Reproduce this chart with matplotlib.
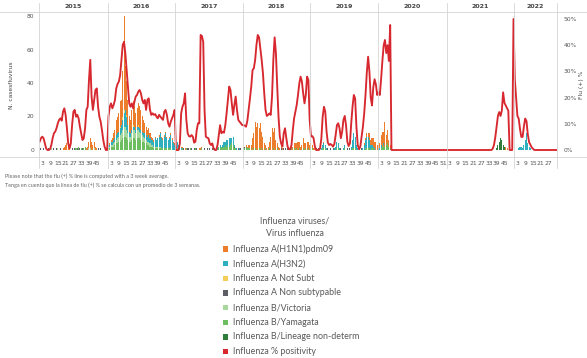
import matplotlib
matplotlib.use("Agg")
import matplotlib.pyplot as plt
from matplotlib.lines import Line2D
from matplotlib.patches import Rectangle
import numpy as np

# ---------------------------------------------------------------- data
years = [2015, 2016, 2017, 2018, 2019, 2020, 2021, 2022]
weeks_in_year = [53, 52, 52, 52, 52, 53, 52, 33]
week_ticks = {
    2015: [3, 9, 15, 21, 27, 33, 39, 45],
    2016: [3, 9, 15, 21, 27, 33, 39, 45],
    2017: [3, 9, 15, 21, 27, 33, 39, 45],
    2018: [3, 9, 15, 21, 27, 33, 39, 45],
    2019: [3, 9, 15, 21, 27, 33, 39, 45],
    2020: [3, 9, 15, 21, 27, 33, 39, 45, 51],
    2021: [3, 9, 15, 21, 27, 33, 39, 45],
    2022: [3, 9, 15, 21, 27],
}

# Influenza % positivity (3-week average), one row per year
positivity = (
    [3.2, 4.5, 5.1, 4.5, 2.5, 0.6, 0, 0, 0.3, 1.9, 4.5, 6.4, 7.0, 8.3, 10.2, 11.5, 12.1, 11.2,
     14.6, 15.9, 13.4, 8.3, 2.5, 0.6, 2.5, 9.5, 14.6, 15.3, 12.7, 13.4, 12.1, 8.9, 6.4, 3.8,
     4.5, 8.3, 15.3, 16.5, 26.7, 34.4, 20.4, 15.3, 19.1, 22.9, 23.5, 16.5, 12.7, 10.8, 7.6,
     3.8, 1.3, 0, 0]
    + [12.7, 16.5, 17.8, 15.9, 17.2, 19.1, 23.5, 25.2, 26.1, 28.6, 34.4, 40.1, 41.3, 36.9,
       30.5, 24.2, 17.8, 16.5, 17.8, 15.9, 18.4, 20.4, 21.0, 22.3, 22.9, 21.6, 19.1, 17.8,
       19.1, 15.3, 19.1, 19.7, 15.3, 13.4, 14.0, 13.4, 13.7, 12.7, 12.1, 13.4, 12.7, 12.1,
       11.5, 14.6, 15.3, 13.4, 10.2, 8.9, 10.8, 12.1, 13.4, 15.3]
    + [0, 0, 0, 2.5, 14.0, 16.5, 17.8, 21.6, 11.5, 6.4, 5.3, 5.1, 5.7, 5.1, 2.8, 3.2, 7.6,
       10.2, 10.2, 43.9, 43.5, 41.3, 15.3, 5.1, 4.7, 4.5, 2.5, 1.9, 2.5, 0.6, 0, 0, 1.9, 5.7,
       9.5, 6.4, 7.0, 6.6, 9.5, 14.0, 19.1, 24.2, 22.9, 17.8, 13.4, 17.2, 20.4, 15.3, 11.5,
       10.8, 10.2, 9.5]
    + [9.5, 9.3, 8.9, 11.2, 15.3, 19.7, 24.2, 30.5, 31.2, 34.4, 40.1, 43.9, 43.0, 38.8, 34.4,
       29.3, 21.6, 15.3, 13.0, 13.4, 14.0, 13.4, 20.4, 34.4, 43.0, 36.9, 24.2, 12.7, 5.1, 2.5,
       1.3, 6.4, 8.3, 4.5, 1.3, 0.3, 0.3, 1.9, 7.6, 12.1, 14.6, 17.2, 21.0, 25.4, 28.0, 26.1,
       21.6, 17.8, 21.0, 28.0, 26.7, 11.5]
    + [5.1, 5.3, 4.5, 1.3, 0, 0, 0, 0.6, 4.5, 12.7, 16.5, 14.6, 7.0, 2.8, 1.9, 2.3, 1.9, 1.3,
       2.3, 5.7, 9.5, 10.2, 8.3, 4.5, 7.0, 11.5, 13.0, 9.5, 3.2, 1.5, 2.5, 10.2, 16.5, 21.0,
       19.7, 8.9, 1.9, 0.3, 1.3, 5.1, 8.9, 14.0, 21.0, 29.5, 35.6, 30.0, 20.0, 17.0, 24.0,
       27.0, 25.0, 21.0]
    + [22, 21, 27, 34, 40, 42, 37, 40, 34, 47.7] + [0] * 43
    + [0] * 35 + [0.5, 2, 5, 9, 13, 14.5, 13, 15, 22, 18, 17, 16, 15, 0, 0, 0, 50]
    + [27, 20, 13, 12, 8, 5, 5, 9, 12, 11, 6, 3, 2, 1, 0.5, 0] + [0] * 17
)

h1n1 = (
    [0] * 18 + [1, 2, 3, 4, 3, 1] + [0] * 12 + [1, 2, 4, 6, 5, 3, 4, 2, 1] + [0] * 8
    + [1, 1, 1, 2, 4, 5, 9, 10, 11, 15, 15, 27, 56, 26, 20, 15, 9, 8, 12, 14, 12, 10, 11, 13,
       13, 12, 9, 8, 6, 5, 4, 4, 3, 2, 1, 1, 1, 0, 0, 1, 1, 1, 1, 1, 1, 1, 0, 1, 1, 1, 1, 1]
    + [0, 0, 0, 0, 1, 1, 0, 1, 0, 0, 0, 0, 0, 0, 0, 0, 0, 0, 1, 1, 1, 0, 0, 0, 0, 0, 0, 0, 0,
       0, 0, 0, 0, 0, 0, 0, 0, 0, 0, 0, 0, 0, 0, 0, 0, 0, 0, 0, 0, 0, 0, 0]
    + [1, 0, 1, 1, 2, 2, 3, 6, 10, 16, 14, 16, 12, 16, 10, 8, 4, 2, 1, 2, 4, 8, 13, 10, 13, 6,
       3, 2, 1, 1, 1, 0, 0, 0, 0, 0, 1, 1, 2, 3, 4, 3, 5, 4, 2, 3, 6, 4, 3, 5, 4, 3]
    + [3, 2, 1, 1, 0, 0, 0, 0, 0, 0, 1, 0, 0, 0, 0, 0, 0, 0, 0, 0, 0, 0, 0, 0, 0, 0, 0, 0, 0,
       0, 0, 0, 0, 0, 0, 0, 0, 0, 0, 0, 0, 1, 1, 2, 2, 4, 3, 4, 5, 4, 5, 3]
    + [2, 3, 6, 9, 7, 15, 6, 8, 4, 2] + [0] * 43
    + [0] * 45 + [2, 1] + [0] * 5
    + [0] * 33
)

h3n2 = (
    [0] * 53
    + [2, 1, 2, 2, 2, 2, 3, 3, 3, 4, 5, 6, 8, 10, 8, 5, 3, 2, 2, 2, 2, 2, 2, 2, 2, 2, 2, 2, 3,
       3, 3, 4, 3, 3, 3, 3, 5, 4, 5, 6, 8, 6, 5, 7, 9, 6, 5, 6, 8, 6, 4, 3]
    + [5, 4, 3, 2, 1, 0, 0, 0, 0, 0, 0, 0, 0, 0, 0, 0, 0, 0, 0, 0, 0, 0, 0, 0, 0, 0, 0, 0, 0,
       0, 0, 0, 1, 0, 2, 0, 2, 3, 2, 4, 3, 5, 4, 3, 5, 1, 0, 1, 0, 1, 0, 0]
    + [0] * 52
    + [0, 0, 0, 0, 0, 0, 0, 0, 1, 2, 3, 2, 1, 0, 0, 0, 0, 0, 1, 2, 4, 3, 1, 0, 0, 1, 2, 0, 0,
       0, 0, 2, 5, 9, 7, 3, 1, 0, 0, 0, 1, 3, 5, 7, 7, 5, 3, 2, 1, 1, 0, 0]
    + [1, 1, 2, 0, 1, 0, 0, 0, 0, 0] + [0] * 43
    + [0] * 52
    + [0, 0, 0, 1, 2, 2, 1, 3, 6, 10, 4, 2, 1] + [0] * 20
)

a_not_subt = (
    [0] * 53
    + [0, 0, 0, 0, 0, 0, 0, 0, 0, 1, 0, 2, 2, 0, 1, 0, 0, 0, 0, 1, 0, 0, 0, 1] + [0] * 28
    + [0] * 52 + [0] * 52 + [0] * 52 + [0] * 53 + [0] * 52 + [0] * 33
)

a_non_subtypable = (
    [0, 1, 0, 1, 0, 0, 0, 1, 0, 0, 0, 1, 0, 1, 0, 0, 1, 0, 0, 0, 0, 0, 0, 0, 0, 1, 0, 1, 0,
     1, 0, 1, 0, 1, 0, 0, 0, 0, 0, 0, 0, 0, 0, 0, 0, 1, 0, 1, 0, 0, 0, 0, 0]
    + [0] * 52
    + [0, 0, 0, 0, 0, 0, 1, 0, 0, 1, 1, 0, 1, 0, 1, 0, 1, 0, 0, 0, 0, 0, 1, 0, 1, 0, 1, 0, 1,
       0, 1, 0, 0, 0, 0, 0, 0, 0, 0, 0, 0, 0, 0, 0, 0, 1, 0, 0, 1, 0, 1, 0]
    + [0, 1, 0, 0, 0, 0, 0, 0, 0, 0, 0, 0, 0, 0, 0, 0, 0, 0, 0, 0, 0, 0, 0, 0, 0, 0, 0, 0, 0,
       1, 0, 1, 1, 0, 1, 0, 0, 0, 0, 0, 0, 0, 0, 0, 0, 0, 0, 0, 0, 0, 0, 0]
    + [0, 0, 0, 0, 1, 0, 1, 0, 0, 0, 0, 0, 0, 1, 0, 1, 0, 1, 0, 0, 0, 0, 0, 1, 0, 0, 0, 0, 1,
       0, 1, 0, 0, 0, 0, 0, 0, 1, 0, 1, 0, 0, 0, 0, 0, 0, 0, 0, 0, 0, 0, 0]
    + [0] * 53 + [0] * 52 + [0] * 33
)

b_victoria = (
    [0, 0, 0, 0, 0, 0, 0, 0, 0, 1, 0, 0, 0, 0, 1, 0, 0, 0, 0, 0, 0, 0, 0, 0, 0, 0, 0, 0, 0,
     0, 0, 0, 0, 0, 0, 0, 0, 0, 1, 1, 0, 0, 1, 0, 0, 0, 0, 0, 0, 0, 0, 0, 0]
    + [1, 1, 1, 1, 2, 2, 2, 3, 3, 4, 4, 5, 6, 6, 5, 4, 3, 3, 4, 5, 5, 4, 5, 5, 4, 4, 4, 3, 3,
       2, 2, 2, 2, 1, 1, 1, 1, 1, 1, 1, 1, 0, 0, 0, 0, 0, 0, 0, 0, 0, 0, 0]
    + [0] * 52 + [0] * 52 + [0] * 52 + [0] * 53 + [0] * 52 + [0] * 33
)

b_yamagata = (
    [0] * 28 + [1, 0, 2, 0, 1, 0, 1, 2] + [0] * 17
    + [1, 1, 2, 2, 2, 3, 4, 4, 5, 5, 6, 7, 8, 8, 7, 6, 5, 5, 6, 7, 7, 6, 7, 7, 7, 6, 5, 5, 4,
       4, 3, 3, 2, 2, 2, 1, 1, 1, 1, 1, 1, 1, 1, 1, 1, 1, 1, 1, 1, 0, 0, 0]
    + [1, 1, 0, 0, 0, 1, 0, 0, 1, 0, 0, 1, 0, 0, 0, 1, 0, 0, 0, 0, 1, 0, 0, 0, 0, 0, 0, 0, 0,
       1, 0, 1, 0, 2, 1, 2, 1, 2, 3, 2, 3, 2, 3, 4, 3, 1, 1, 0, 0, 0, 0, 0]
    + [1, 1, 2, 1, 1, 1, 0, 1, 0, 1, 0, 0, 1, 0, 1, 0, 0, 1, 0, 0, 1, 0, 0, 1, 0, 0, 1, 0, 0,
       0, 0, 0, 0, 0, 0, 0, 0, 1, 0, 1, 0, 1, 0, 1, 0, 0, 1, 0, 1, 0, 1, 0]
    + [1, 1, 0, 0, 0, 0, 0, 0, 0, 1, 1, 1, 0, 0, 0, 0, 0, 0, 0, 0, 1, 1, 0, 0, 0, 0, 1, 0, 0,
       0, 0, 0, 1, 1, 1, 0, 0, 0, 0, 0, 0, 0, 1, 1, 1, 1, 0, 1, 1, 0, 0, 0]
    + [0, 0, 1, 2, 3, 2, 3, 4, 2, 1] + [0] * 43
    + [0] * 52 + [0] * 33
)

b_lineage_nd = (
    [0] * 53 + [0] * 52 + [0] * 52 + [0] * 52 + [0] * 52 + [0] * 53
    + [0] * 38 + [1, 3, 5, 7, 6, 3, 2] + [0] * 7
    + [0] * 33
)

# stacking order bottom -> top, with legend labels and colours
bar_series = [
    ("Influenza B/Lineage non-determ", b_lineage_nd, "#2E7D3A"),
    ("Influenza B/Yamagata", b_yamagata, "#6DBE61"),
    ("Influenza B/Victoria", b_victoria, "#A9D89E"),
    ("Influenza A Non subtypable", a_non_subtypable, "#5E5F66"),
    ("Influenza A(H3N2)", h3n2, "#2EAFC0"),
    ("Influenza A Not Subt", a_not_subt, "#F4CD5A"),
    ("Influenza A(H1N1)pdm09", h1n1, "#EC7D2C"),
]
legend_order = [
    ("Influenza A(H1N1)pdm09", "#EC7D2C"),
    ("Influenza A(H3N2)", "#2EAFC0"),
    ("Influenza A Not Subt", "#F4CD5A"),
    ("Influenza A Non subtypable", "#5E5F66"),
    ("Influenza B/Victoria", "#A9D89E"),
    ("Influenza B/Yamagata", "#6DBE61"),
    ("Influenza B/Lineage non-determ", "#2E7D3A"),
    ("Influenza % positivity", "#D7282F"),
]

# ---------------------------------------------------------------- figure
W, H = 587, 358
fig = plt.figure(figsize=(W / 100, H / 100), dpi=100)


def fx(x):
    return x / W


def fy(y):
    return 1 - y / H


ax_left, ax_right, ax_top, ax_bot = 39, 557, 12, 157
ax = fig.add_axes([fx(ax_left), fy(ax_bot), fx(ax_right - ax_left), fy(ax_top) - fy(ax_bot)])
ax2 = ax.twinx()

total = sum(weeks_in_year)
offsets = np.concatenate([[0], np.cumsum(weeks_in_year)[:-1]])
x = np.arange(total)

bottom = np.zeros(total)
for name, vals, col in bar_series:
    v = np.asarray(vals, dtype=float)
    ax.bar(x, v, width=0.78, bottom=bottom, color=col, linewidth=0, zorder=2)
    bottom += v

ax2.plot(x, positivity, color="#D7282F", lw=1.35, solid_joinstyle="round", zorder=3)

ax.set_xlim(-0.5, total - 0.5)
ax.set_ylim(-(ax_bot - 150) / 1.675, (150 - ax_top) / 1.675)
ax2.set_ylim(-(ax_bot - 150) / 2.62, (150 - ax_top) / 2.62)

for a in (ax, ax2):
    for s in a.spines.values():
        s.set_visible(False)
    a.patch.set_visible(False)

tick_font = dict(fontsize=4.3, color="#555555")
ax.set_yticks([0, 20, 40, 60, 80])
ax.set_yticklabels(["0", "20", "40", "60", "80"], **tick_font)
ax.tick_params(axis="y", length=0, pad=3.5)
ax2.set_yticks([0, 10, 20, 30, 40, 50])
ax2.set_yticklabels([f"{v}%" for v in [0, 10, 20, 30, 40, 50]], **tick_font)
ax2.tick_params(axis="y", length=0, pad=4.5)

xt, xl = [], []
for yr, off in zip(years, offsets):
    for w in week_ticks[yr]:
        xt.append(off + w - 1)
        xl.append(str(w))
ax.set_xticks(xt)
ax.set_xticklabels(xl, **tick_font)
ax.tick_params(axis="x", length=0, pad=3)

# panel frame: header/bottom rules and year separators
line_col = "#D5D5D5"
fig.add_artist(Line2D([0, 1], [fy(ax_top), fy(ax_top)], color=line_col, lw=0.6))
fig.add_artist(Line2D([0, 1], [fy(ax_bot), fy(ax_bot)], color=line_col, lw=0.6))
px_per_week = (ax_right - ax_left) / total
for off in list(offsets) + [total]:
    xp = ax_left + off * px_per_week
    fig.add_artist(Line2D([fx(xp), fx(xp)], [fy(3), fy(168)], color=line_col, lw=0.6))

for yr, off, n in zip(years, offsets, weeks_in_year):
    xc = ax_left + (off + n / 2) * px_per_week
    fig.text(fx(xc), fy(7), str(yr), ha="center", va="center", fontsize=4.5,
             color="#444444", fontweight="bold")

fig.text(fx(12), fy(85), "N. casesfluvirus", rotation=90, ha="center", va="center",
         fontsize=4.3, color="#444444")
fig.text(fx(582), fy(85), "Flu (+) %", rotation=90, ha="center", va="center",
         fontsize=4.3, color="#444444")

note_font = dict(fontsize=3.9, color="#666666", family="Lato", ha="left", va="center")
fig.text(fx(5), fy(176.5), "Please note that the flu (+) % line is computed with a 3 week average.",
         **note_font)
fig.text(fx(5), fy(185),
         "Tenga en cuenta que la línea de flu (+) % se calcula con un promedio de 3 semanas.",
         **note_font)

# legend
leg_font = dict(fontsize=6.4, color="#595959", family="Lato", va="center")
fig.text(fx(295), fy(221), "Influenza viruses/", ha="center", **leg_font)
fig.text(fx(295), fy(233.5), "Virus influenza", ha="center", **leg_font)
for k, (name, col) in enumerate(legend_order):
    yc = 249 + 14.65 * k
    fig.add_artist(Rectangle((fx(223), fy(yc + 2.6)), fx(5.2), fy(yc - 2.6) - fy(yc + 2.6),
                             facecolor=col, edgecolor="none"))
    fig.text(fx(233), fy(yc), name, ha="left", **leg_font)

fig.savefig("out.png", dpi=100)
